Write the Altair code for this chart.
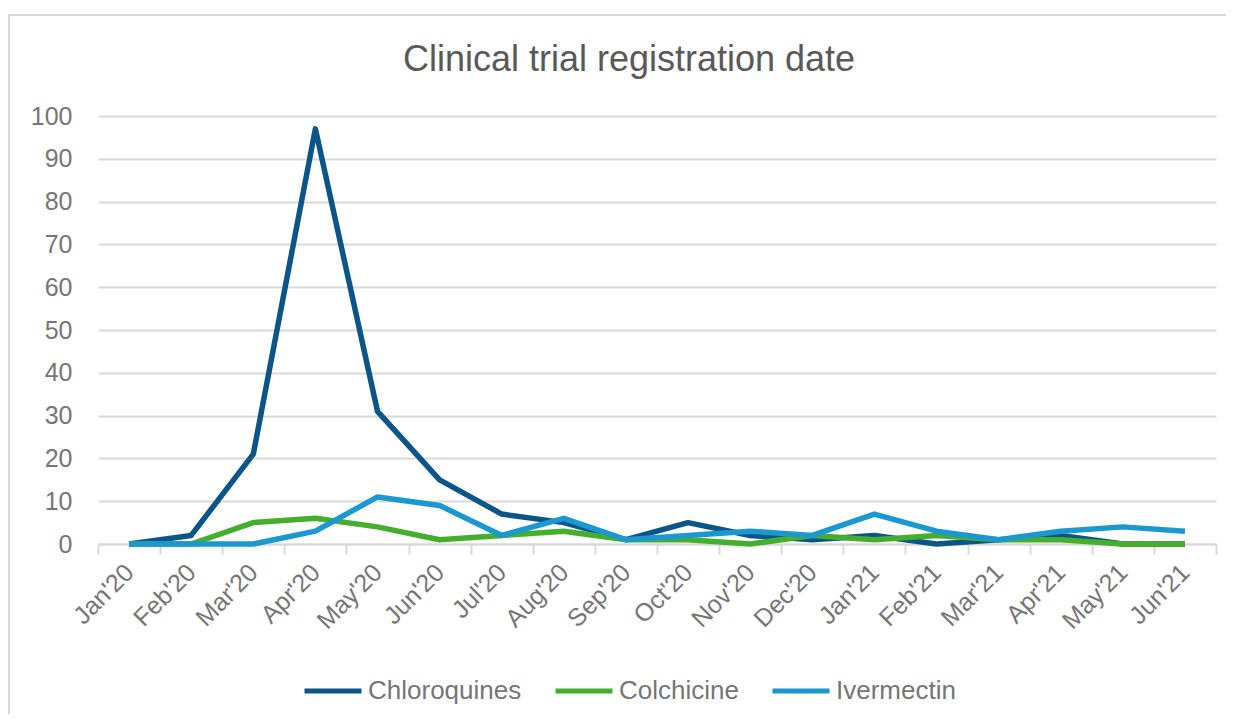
import altair as alt
import pandas as pd

months = ["Jan'20", "Feb'20", "Mar'20", "Apr'20", "May'20", "Jun'20", "Jul'20", "Aug'20",
          "Sep'20", "Oct'20", "Nov'20", "Dec'20", "Jan'21", "Feb'21", "Mar'21", "Apr'21",
          "May'21", "Jun'21"]
chloroquines = [0, 2, 21, 97, 31, 15, 7, 5, 1, 5, 2, 1, 2, 0, 1, 2, 0, 0]
colchicine = [0, 0, 5, 6, 4, 1, 2, 3, 1, 1, 0, 2, 1, 2, 1, 1, 0, 0]
ivermectin = [0, 0, 0, 3, 11, 9, 2, 6, 1, 2, 3, 2, 7, 3, 1, 3, 4, 3]
series_names = ["Chloroquines", "Colchicine", "Ivermectin"]
series_colors = ["#0B5588", "#45AF2D", "#1B98D0"]

rows = []
for name, vals in zip(series_names, [chloroquines, colchicine, ivermectin]):
    for m, v in zip(months, vals):
        rows.append({"month": m, "value": v, "series": name})
df = pd.DataFrame(rows)

FONT = "Liberation Sans"
GRAY = "#767676"

lines = alt.Chart(df).mark_line(strokeWidth=5.5, strokeJoin="round").encode(
    x=alt.X("month:N", sort=months, bandPosition=0.5,
            scale=alt.Scale(type="band", paddingInner=0, paddingOuter=0),
            axis=alt.Axis(title=None, tickBand="extent", labelAngle=-45, labelAlign="right",
                          labelBaseline="middle", labelFontSize=25, labelColor=GRAY,
                          labelFont=FONT, labelPadding=14, tickSize=10, tickColor="#d9d9d9",
                          tickWidth=2, domainColor="#d9d9d9", domainWidth=2, grid=False)),
    y=alt.Y("value:Q", scale=alt.Scale(domain=[0, 100], nice=False),
            axis=alt.Axis(title=None, values=list(range(0, 101, 10)), labelFontSize=25,
                          labelColor=GRAY, labelFont=FONT, labelPadding=26, ticks=False,
                          domain=False, gridColor="#d9d9d9", gridWidth=2)),
    color=alt.Color("series:N", sort=series_names,
                    scale=alt.Scale(domain=series_names, range=series_colors),
                    legend=alt.Legend(title=None, orient="none", direction="horizontal",
                                      legendX=204, legendY=544, symbolType="stroke",
                                      symbolStrokeWidth=5, symbolSize=3249, labelFontSize=26,
                                      labelFont=FONT, labelColor=GRAY, labelOffset=4,
                                      columnPadding=23)),
)

frame = alt.Chart(alt.Data(values=[{}])).mark_rect(fill=None, stroke="#d9d9d9", strokeWidth=2).encode(
    x=alt.value(-89), x2=alt.value(1145), y=alt.value(-101), y2=alt.value(620)
)

chart = alt.layer(frame, lines).properties(
    width=1118, height=428,
    autosize=alt.AutoSizeParams(type="none"),
    padding={"left": 90, "top": 108, "right": 10, "bottom": 170},
    title=alt.TitleParams("Clinical trial registration date", fontSize=36, font=FONT,
                          fontWeight="normal", color="#595959", anchor="middle", dx=-28,
                          offset=-93, baseline="alphabetic"),
).configure_view(stroke=None)

chart.save("out.html", embed_options={"renderer": "svg", "actions": False})
